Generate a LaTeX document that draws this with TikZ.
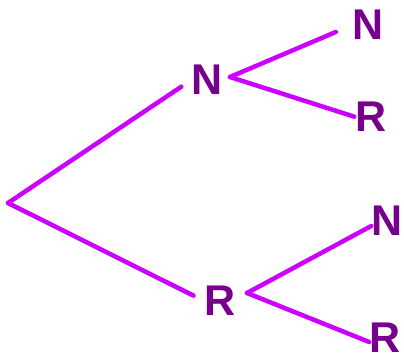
\documentclass[tikz,border=0pt]{standalone}
\usepackage{fontspec}
\setmainfont{Liberation Sans}
\usetikzlibrary{positioning}
\definecolor{branchcol}{RGB}{204,0,255}
\definecolor{labelcol}{RGB}{118,0,140}

\begin{document}
\begin{tikzpicture}[x=1pt, y=-1pt,
  branch/.style={line width=4.5pt, branchcol, line cap=round},
  lbl/.style={inner sep=0pt, text=labelcol, font=\fontsize{43}{43}\selectfont\bfseries}]
\useasboundingbox (0,0) rectangle (404,358);

% labels
\node[lbl] (lN) at (207,80) {N};
\node[lbl] (lR) at (220,301) {R};
\node[lbl] (lNN) at (368,25) {N};
\node[lbl] (lNR) at (371,117) {R};
\node[lbl] (lRN) at (387,221) {N};
\node[lbl] (lRR) at (385,338) {R};

% junctions
\coordinate (root) at (8,203);
\coordinate (jN) at (230,77);
\coordinate (jR) at (247,293);

% first stage
\draw[branch, shorten >=12pt] (root) -- (lN.west);
\draw[branch, shorten >=12pt] (root) -- (lR.west);

% second stage
\draw[branch, shorten >=18pt] (jN) -- (lNN.west);
\draw[branch, shorten >=1pt] (jN) -- (lNR.west);
\draw[branch] (jR) -- ([yshift=-5pt]lRN.west);
\draw[branch] (jR) -- ([yshift=-4pt]lRR.west);

\end{tikzpicture}
\end{document}
